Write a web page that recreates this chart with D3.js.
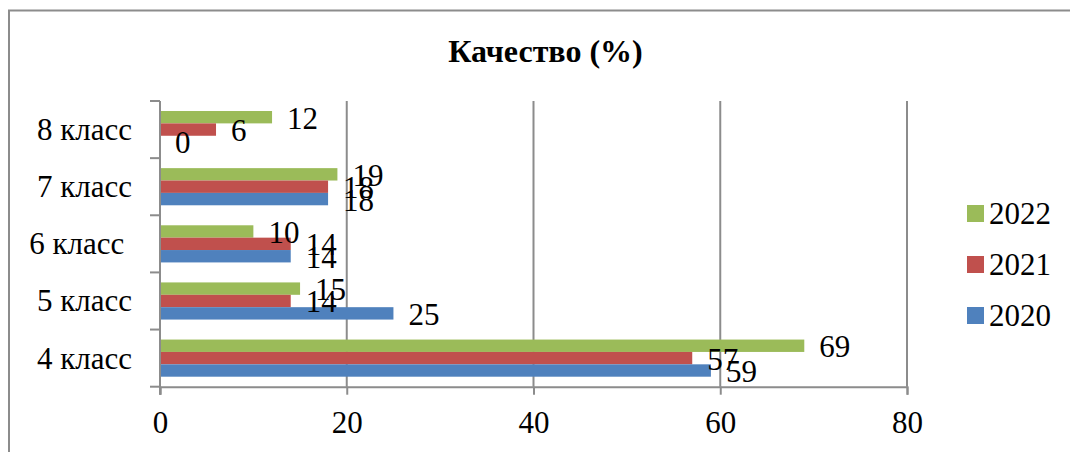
<!DOCTYPE html>
<html>
<head>
<meta charset="utf-8">
<script src="https://cdn.jsdelivr.net/npm/d3@7"></script>
<style>
  html, body { margin: 0; padding: 0; background: #fff; }
  svg { display: block; }
</style>
</head>
<body>
<svg id="chart" width="1070" height="452"></svg>
<script>
// Data
const categories = ["8 класс", "7 класс", "6 класс ", "5 класс", "4 класс"];
const seriesNames = ["2022", "2021", "2020"];
const values2020 = [0, 18, 14, 25, 59];
const values2021 = [6, 18, 14, 14, 57];
const values2022 = [12, 19, 10, 15, 69];
const xTicks = [0, 20, 40, 60, 80];
const titleText = "Качество (%)";

const seriesValues = { "2022": values2022, "2021": values2021, "2020": values2020 };
const colors = { "2022": "#9BBB59", "2021": "#C0504D", "2020": "#4F81BD" };
const FONT = "Liberation Serif";

const svg = d3.select("#chart");
const W = 1070, H = 452;
const plot = { left: 160, right: 907, top: 101, bottom: 386.7 };

// outer frame
svg.append("rect")
  .attr("x", 9).attr("y", 10.5)
  .attr("width", W + 20).attr("height", H + 20)
  .attr("fill", "none").attr("stroke", "#8c8c8c").attr("stroke-width", 2);

// title
svg.append("text")
  .attr("x", 545.5).attr("y", 62)
  .attr("text-anchor", "middle")
  .attr("font-family", FONT)
  .attr("font-size", 32).attr("font-weight", "bold")
  .text(titleText);

const x = d3.scaleLinear().domain([0, 80]).range([plot.left, plot.right]);
const y = d3.scaleBand().domain(categories).range([plot.top, plot.bottom])
  .paddingInner(0.35).paddingOuter(0.175);
const ySub = d3.scaleBand().domain(seriesNames).range([0, y.bandwidth()]);

// vertical gridlines
svg.append("g").selectAll("line")
  .data(xTicks.filter(d => d > 0))
  .join("line")
  .attr("x1", d => x(d)).attr("x2", d => x(d))
  .attr("y1", plot.top).attr("y2", plot.bottom)
  .attr("stroke", "#8c8c8c").attr("stroke-width", 2);

// bars
const rows = [];
categories.forEach((c, i) => {
  seriesNames.forEach(s => rows.push({ cat: c, series: s, value: seriesValues[s][i] }));
});

svg.append("g").selectAll("rect")
  .data(rows)
  .join("rect")
  .attr("x", x(0))
  .attr("y", d => y(d.cat) + ySub(d.series))
  .attr("width", d => x(d.value) - x(0))
  .attr("height", ySub.bandwidth())
  .attr("fill", d => colors[d.series]);

// data labels
svg.append("g").selectAll("text")
  .data(rows)
  .join("text")
  .attr("x", d => x(d.value) + 15)
  .attr("y", d => y(d.cat) + ySub(d.series) + ySub.bandwidth() / 2 + 11.5)
  .attr("font-family", FONT).attr("font-size", 31).attr("fill", "#000")
  .text(d => d.value);

// x axis
const xAxis = svg.append("g").attr("transform", `translate(0,${plot.bottom})`)
  .call(d3.axisBottom(x).tickValues(xTicks).tickSize(8).tickPadding(16).tickFormat(d3.format("d")));
xAxis.attr("font-family", FONT).attr("font-size", 31);
xAxis.select(".domain").attr("stroke", "#8c8c8c").attr("stroke-width", 2);
xAxis.selectAll(".tick line").attr("stroke", "#8c8c8c").attr("stroke-width", 2);
xAxis.selectAll(".tick text").attr("fill", "#000");

// y axis line
svg.append("line")
  .attr("x1", x(0)).attr("x2", x(0))
  .attr("y1", plot.top).attr("y2", plot.bottom + 8)
  .attr("stroke", "#8c8c8c").attr("stroke-width", 2);

// y ticks at category boundaries
const boundaries = categories.map(c => y(c) - y.step() * y.paddingInner() / 2);
boundaries.push(plot.bottom);
svg.append("g").selectAll("line")
  .data(boundaries)
  .join("line")
  .attr("x1", x(0) - 10).attr("x2", x(0))
  .attr("y1", d => d).attr("y2", d => d)
  .attr("stroke", "#8c8c8c").attr("stroke-width", 2);

// category labels
svg.append("g").selectAll("text")
  .data(categories)
  .join("text")
  .attr("x", 132)
  .attr("y", d => y(d) + y.bandwidth() / 2 + 10.5)
  .attr("text-anchor", "end")
  .attr("font-family", FONT).attr("font-size", 31).attr("fill", "#000")
  .style("white-space", "pre")
  .text(d => d);

// legend
const legendNames = ["2022", "2021", "2020"];
const lg = svg.append("g").selectAll("g")
  .data(legendNames)
  .join("g")
  .attr("transform", (d, i) => `translate(967,${213.5 + i * 51})`);
lg.append("rect").attr("x", 0).attr("y", -8.5).attr("width", 17).attr("height", 17)
  .attr("fill", d => colors[d]);
lg.append("text").attr("x", 22).attr("y", 10.5)
  .attr("font-family", FONT).attr("font-size", 31).attr("fill", "#000")
  .text(d => d);
</script>
</body>
</html>
